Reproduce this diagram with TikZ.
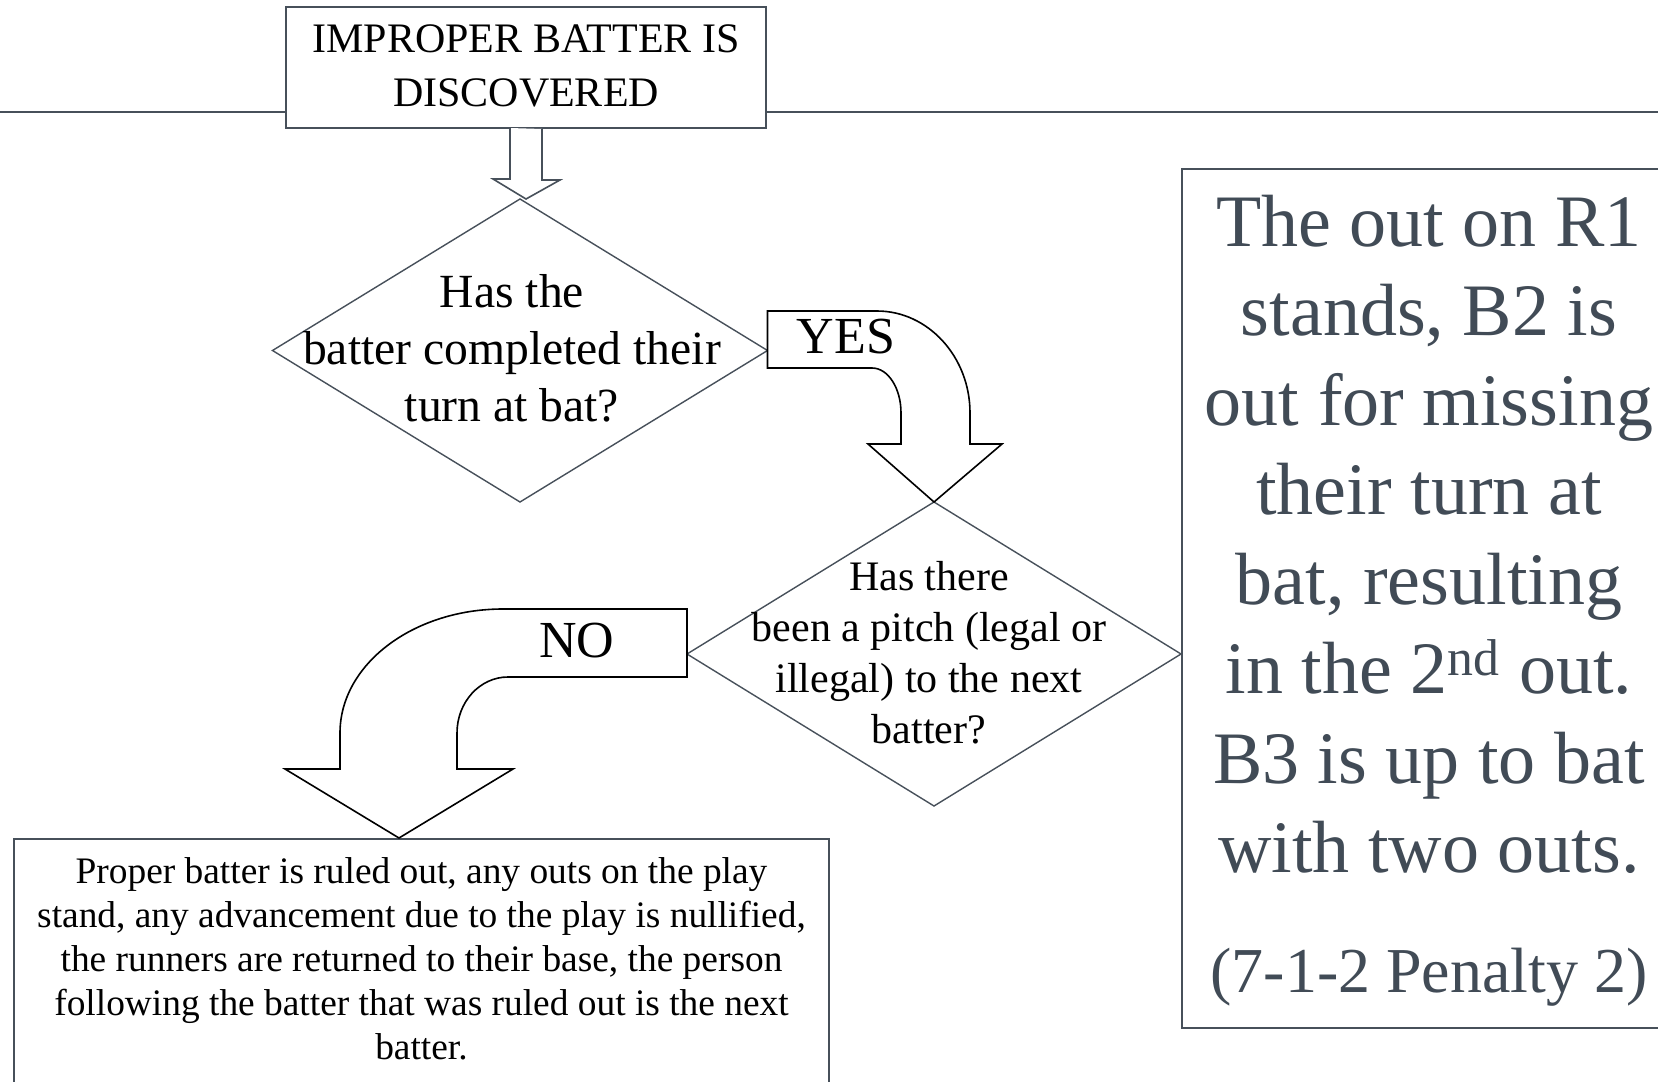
\documentclass[tikz,border=0pt]{standalone}
\usepackage{fontspec}
\setmainfont{Liberation Serif}
\usetikzlibrary{shapes.geometric,calc}
\definecolor{slate}{HTML}{47505A}
\definecolor{slatetext}{HTML}{414B56}
\newcommand{\cellstack}[1]{\begin{tabular}[t]{@{}c@{}}#1\end{tabular}}

\begin{document}
\begin{tikzpicture}[x=0.5pt, y=-0.5pt,
    frame/.style={draw=slate, line width=1pt, fill=white, inner sep=0pt, outer sep=0pt},
    decision/.style={shape=diamond, draw=slate, line width=0.7pt, inner sep=0pt, outer sep=0pt},
    words/.style={anchor=base, inner sep=0pt, text=black},
    bigarrow/.style={draw=black, line width=0.8pt, fill=white, line join=miter},
    hollow/.style={draw=slate, line width=0.8pt, fill=white}]
    \useasboundingbox (0,0) rectangle (1658,1081);

    \coordinate (rule-l) at (0,112);
    \coordinate (rule-r) at (1658,112);
    \draw[slate, line width=1pt] (rule-l) -- (rule-r);

    \node[frame, minimum width=240pt, minimum height=60.5pt] (start) at (526,67.5) {};
    \node[decision, minimum width=247.5pt, minimum height=151.5pt] (q1) at (520,350.5) {};
    \node[decision, minimum width=247pt, minimum height=152pt] (q2) at (934,654) {};
    \node[frame, minimum width=247pt, minimum height=429.5pt] (yesbox) at (1429,598.5) {};
    \node[frame, minimum width=407.5pt, minimum height=135.5pt] (nobox) at (421.5,974.5) {};

    % hollow arrow from start down to q1
    \draw[hollow] (start.south) ++(-16,0) -- ++(0,51) -- ++(-17,0) -- ($(start.south)+(0,71)$)
        -- ++(34,-19) -- ++(-18,0) -- ++(0,-51);

    \draw[bigarrow] (q1.east |- 0,311) -- (877,311) .. controls (928,311) and (970,356.7) .. (970,413)
        -- (970,444) -- (1002,444) -- (q2.north) -- (868,444) -- (901,444) -- (901,413)
        .. controls (901,388.1) and (888,368) .. (872,368) -- (q1.east |- 0,368) -- cycle;

    \draw[bigarrow] (q2.west |- 0,609) -- (503,609) .. controls (413,609) and (340,664.5) .. (340,733)
        -- (340,769) -- (285,769) -- (399,838) -- (513,769) -- (457,769) -- (457,733)
        .. controls (457,702.1) and (479.8,677) .. (508,677) -- (q2.west |- 0,677) -- cycle;

    \node[words, font=\fontsize{21}{27}\selectfont] (starttext) at (526,53)
        {\cellstack{IMPROPER BATTER IS\\DISCOVERED}};
    \node[words, font=\fontsize{23.8}{28.5}\selectfont] (q1text) at (512,307)
        {\cellstack{Has the\\batter completed their\\turn at bat?}};
    \node[words, font=\fontsize{21}{25.5}\selectfont] (q2text) at (929,590)
        {\cellstack{Has there\\been a pitch (legal or\\illegal) to the next\\batter?}};
    \node[words, font=\fontsize{26}{30}\selectfont] (yes) at (846,353) {YES};
    \node[words, font=\fontsize{26}{30}\selectfont] (no) at (577,657) {NO};
    \node[words, font=\fontsize{18.7}{22}\selectfont] (notext) at (421.5,883)
        {\cellstack{Proper batter is ruled out, any outs on the play\\
        stand, any advancement due to the play is nullified,\\
        the runners are returned to their base, the person\\
        following the batter that was ruled out is the next\\batter.}};
    \node[words, text=slatetext, font=\fontsize{37}{44.75}\selectfont] (yestext) at (1429,246)
        {\cellstack{The out on R1\\stands, B2 is\\out for missing\\their turn at\\bat, resulting\\
        in the 2\textsuperscript{nd} out.\\B3 is up to bat\\with two outs.\\[15.25pt]
        \fontsize{32}{40}\selectfont (7-1-2 Penalty 2)}};
\end{tikzpicture}
\end{document}
